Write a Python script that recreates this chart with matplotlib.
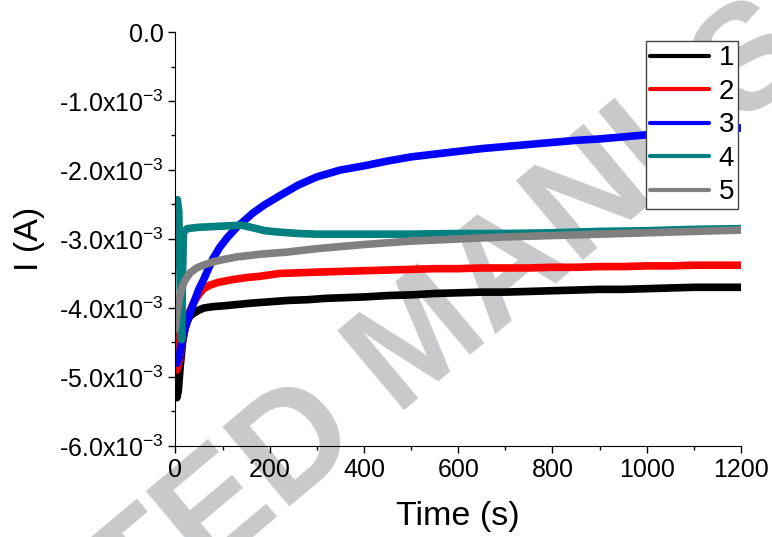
import matplotlib
matplotlib.use("Agg")
import matplotlib.pyplot as plt
from matplotlib.ticker import MultipleLocator

plt.rcParams['font.family'] = ['Liberation Sans', 'DejaVu Sans']
plt.rcParams['mathtext.fontset'] = 'custom'
plt.rcParams['mathtext.rm'] = 'Liberation Sans'
plt.rcParams['mathtext.it'] = 'Liberation Sans:italic'
plt.rcParams['mathtext.bf'] = 'Liberation Sans:bold'

# current in mA
t1 = [0, 3, 6, 10, 15, 20, 25, 30, 40, 50, 60, 80, 100, 130, 160, 200, 240, 280, 320, 360,
      400, 450, 500, 550, 600, 650, 700, 750, 800, 850, 900, 950, 1000, 1050, 1100, 1150, 1200]
i1 = [-5.0, -5.3, -5.2, -4.85, -4.5, -4.3, -4.2, -4.12, -4.07, -4.03, -4.0, -3.98, -3.97, -3.95,
      -3.93, -3.91, -3.89, -3.88, -3.86, -3.85, -3.84, -3.82, -3.81, -3.79, -3.78, -3.77, -3.77,
      -3.76, -3.75, -3.74, -3.73, -3.73, -3.72, -3.71, -3.70, -3.70, -3.70]

t2 = [0, 3, 8, 14, 20, 25, 30, 38, 45, 52, 60, 73, 90, 120, 150, 180, 220, 260, 300, 350,
      400, 450, 500, 550, 600, 650, 700, 750, 800, 850, 900, 950, 1000, 1050, 1100, 1150, 1200]
i2 = [-4.4, -4.9, -4.75, -4.5, -4.3, -4.17, -4.05, -3.93, -3.85, -3.78, -3.72, -3.67, -3.63,
      -3.59, -3.56, -3.54, -3.50, -3.49, -3.48, -3.47, -3.46, -3.45, -3.44, -3.43, -3.43, -3.42,
      -3.42, -3.42, -3.41, -3.41, -3.40, -3.40, -3.39, -3.39, -3.38, -3.38, -3.38]

t3 = [3, 8, 15, 22, 31, 40, 50, 59, 70, 80, 94, 110, 130, 150, 165, 190, 222, 260, 300, 350,
      400, 450, 500, 550, 600, 650, 700, 750, 800, 850, 900, 950, 1000, 1050, 1100, 1150, 1200]
i3 = [-4.8, -4.7, -4.45, -4.25, -4.07, -3.9, -3.72, -3.6, -3.43, -3.28, -3.12, -2.98, -2.83,
      -2.71, -2.62, -2.5, -2.37, -2.22, -2.1, -2.0, -1.94, -1.87, -1.81, -1.77, -1.73, -1.69,
      -1.66, -1.63, -1.60, -1.57, -1.55, -1.52, -1.49, -1.47, -1.44, -1.42, -1.39]

t4 = [0, 4, 7, 11, 13, 15, 17, 25, 50, 80, 110, 140, 160, 190, 220, 260, 300, 400, 500, 600,
      700, 800, 900, 1000, 1100, 1200]
i4 = [-2.55, -2.43, -2.6, -4.0, -4.46, -3.5, -2.9, -2.85, -2.83, -2.82, -2.81, -2.80, -2.83,
      -2.88, -2.90, -2.92, -2.93, -2.93, -2.93, -2.92, -2.92, -2.91, -2.89, -2.88, -2.86, -2.85]

t5 = [0, 3, 6, 10, 15, 20, 31, 45, 59, 80, 100, 130, 180, 237, 300, 400, 500, 600, 700, 800,
      900, 1000, 1100, 1200]
i5 = [-4.3, -4.1, -3.95, -3.8, -3.68, -3.6, -3.49, -3.42, -3.38, -3.33, -3.30, -3.26, -3.22,
      -3.19, -3.14, -3.08, -3.03, -3.00, -2.97, -2.95, -2.93, -2.91, -2.89, -2.87]

labels = ['1', '2', '3', '4', '5']
colors = ['black', '#ff0000', '#0000ff', '#008080', '#808080']

yticks = [0, -1e-3, -2e-3, -3e-3, -4e-3, -5e-3, -6e-3]
ytick_labels = ['0.0', '-1.0x10$^{-3}$', '-2.0x10$^{-3}$', '-3.0x10$^{-3}$',
                '-4.0x10$^{-3}$', '-5.0x10$^{-3}$', '-6.0x10$^{-3}$']

fig = plt.figure(figsize=(7.72, 5.37), dpi=100)
# watermark, sits behind the axes
fig.text(0.548, 0.36, 'ACCEPTED MANUSCRIPT', fontsize=108, fontweight='bold',
         color='#c8c9cb', rotation=40, ha='center', va='center', zorder=-5,
         rotation_mode='anchor')
ax = fig.add_axes([0.2273, 0.1695, 0.7325, 0.7709])
ax.set_facecolor('none')

series = [(t1, i1), (t2, i2), (t3, i3), (t4, i4), (t5, i5)]
for (t, i), lab, c in zip(series, labels, colors):
    ax.plot(t, [v * 1e-3 for v in i], color=c, lw=5.5, label=lab, solid_capstyle='round')

ax.set_xlim(0, 1200)
ax.set_ylim(-6e-3, 0)
ax.xaxis.set_major_locator(MultipleLocator(200))
ax.xaxis.set_minor_locator(MultipleLocator(100))
ax.set_yticks(yticks, ytick_labels)
ax.yaxis.set_minor_locator(MultipleLocator(0.5e-3))
ax.tick_params(which='major', direction='out', length=5, width=1, labelsize=18)
ax.tick_params(which='minor', direction='out', length=3, width=1)
ax.spines['top'].set_visible(False)
ax.spines['right'].set_visible(False)

ax.set_xlabel('Time (s)', fontsize=24.5, labelpad=14)
ax.set_ylabel('I (A)', fontsize=24.5, labelpad=10)

leg = ax.legend(loc='upper right', bbox_to_anchor=(0.995, 0.978), fontsize=20,
                handlelength=2.1, handletextpad=0.35, labelspacing=0.27,
                borderpad=0.15, borderaxespad=0, fancybox=False,
                edgecolor='#444444', framealpha=1)
for h in leg.get_lines():
    h.set_linewidth(3)
leg.get_frame().set_linewidth(1)

fig.savefig('out.png', dpi=100)
